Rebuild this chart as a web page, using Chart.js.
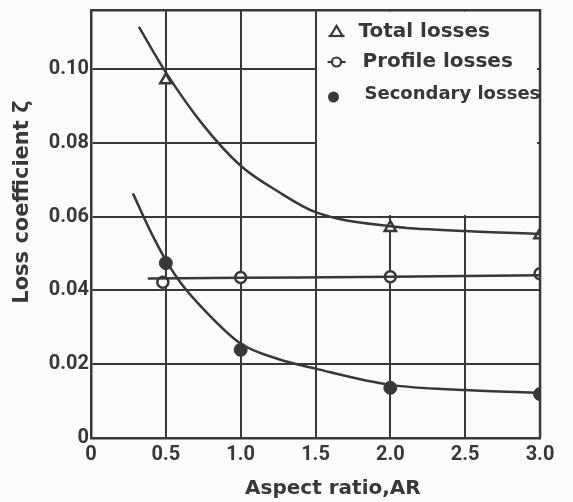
<!DOCTYPE html>
<html>
<head>
<meta charset="utf-8">
<script src="https://cdn.jsdelivr.net/npm/chart.js@4.4.1/dist/chart.umd.min.js"></script>
<style>
  html, body { margin: 0; padding: 0; background: #fbfbf9; }
  #wrap { width: 573px; height: 502px; }
</style>
</head>
<body>
<div id="wrap"><canvas id="chart"></canvas></div>
<script>
// measured points (aspect ratio AR, loss coefficient)
const totalX = [0.5, 2.0, 3.0];
const totalY = [0.097, 0.057, 0.055];
const profileX = [0.48, 1.0, 2.0, 3.0];
const profileY = [0.0422, 0.0435, 0.0437, 0.0445];
const secondaryX = [0.5, 1.0, 2.0, 3.0];
const secondaryY = [0.0474, 0.0239, 0.0136, 0.0119];

// faired curves
const totalCurveX = [0.32, 0.5, 0.75, 1.0, 1.25, 1.5, 2.0, 2.5, 3.0];
const totalCurveY = [0.1114, 0.0991, 0.0848, 0.0738, 0.0668, 0.0612, 0.0574, 0.0561, 0.0553];
const profileCurveX = [0.38, 1.0, 2.0, 3.0];
const profileCurveY = [0.0432, 0.0434, 0.0437, 0.0441];
const secondaryCurveX = [0.28, 0.4, 0.5, 0.6, 0.75, 1.0, 1.25, 1.5, 2.0, 2.5, 3.0];
const secondaryCurveY = [0.0663, 0.0558, 0.0482, 0.0420, 0.0350, 0.0256, 0.0214, 0.0188, 0.0144, 0.0130, 0.0122];

// axis ticks and labels
const xTickLabels = ['0', '0.5', '1.0', '1.5', '2.0', '2.5', '3.0'];
const yTickLabels = ['0', '0.02', '0.04', '0.06', '0.08', '0.10'];
const legendLabels = ['Total losses', 'Profile losses', 'Secondary losses'];

const ink = '#383838';
const paper = '#fbfbf9';

const pts = (xs, ys) => xs.map((x, i) => ({ x: x, y: ys[i] }));

const curve = (xs, ys) => ({
  data: pts(xs, ys),
  showLine: true,
  pointRadius: 0,
  borderColor: ink,
  borderWidth: 2.5,
  cubicInterpolationMode: 'monotone',
});

// blank legend panel, frame and the legend itself
const paperPlugin = {
  id: 'paper',
  beforeDatasetsDraw(chart) {
    const { ctx, chartArea: a, scales: { x, y } } = chart;
    const left = x.getPixelForValue(1.5);
    const bottom = y.getPixelForValue(0.06);
    ctx.save();
    ctx.fillStyle = paper;
    // stop short of the 3.0 grid line so the panel keeps its right edge
    ctx.fillRect(left + 1.5, a.top + 1.5, a.right - left - 4.5, bottom - a.top - 3);
    ctx.restore();
  },
  afterDraw(chart) {
    const { ctx, chartArea: a, scales: { x, y } } = chart;
    const left = x.getPixelForValue(1.5);
    ctx.save();
    ctx.strokeStyle = ink;
    ctx.fillStyle = ink;
    ctx.lineWidth = 2.2;
    ctx.textBaseline = 'middle';
    const mx = left + 21;
    const rows = [a.top + 22, a.top + 52, a.top + 84];
    // triangle
    let ry = rows[0];
    ctx.beginPath();
    ctx.moveTo(mx, ry - 6);
    ctx.lineTo(mx - 6, ry + 4);
    ctx.lineTo(mx + 6, ry + 4);
    ctx.closePath();
    ctx.stroke();
    ctx.beginPath();
    ctx.moveTo(mx - 8, ry + 4);
    ctx.lineTo(mx + 8, ry + 4);
    ctx.stroke();
    // open circle
    ry = rows[1];
    ctx.beginPath();
    ctx.moveTo(mx - 9, ry);
    ctx.lineTo(mx + 9, ry);
    ctx.stroke();
    ctx.beginPath();
    ctx.arc(mx, ry, 4.5, 0, Math.PI * 2);
    ctx.fillStyle = paper;
    ctx.fill();
    ctx.stroke();
    // filled circle
    ry = rows[2];
    ctx.fillStyle = ink;
    ctx.beginPath();
    ctx.arc(mx - 3, ry + 3, 5.5, 0, Math.PI * 2);
    ctx.fill();
    ctx.font = 'bold 20px "DejaVu Sans"';
    ctx.fillText(legendLabels[0], left + 43, rows[0]);
    ctx.fillText(legendLabels[1], left + 47, rows[1]);
    ctx.font = 'bold 18px "DejaVu Sans"';
    ctx.fillText(legendLabels[2], left + 49, rows[2]);

    // top and right edges of the frame
    const xr = x.getPixelForValue(3);
    ctx.fillRect(a.left - 1, a.top - 1, xr - a.left + 2, 2.5);
    ctx.fillRect(xr - 1.2, a.top - 1, 2.5, y.getPixelForValue(0) - a.top + 1);
    ctx.restore();
  },
};

new Chart(document.getElementById('chart'), {
  type: 'scatter',
  data: {
    datasets: [
      curve(totalCurveX, totalCurveY),
      curve(profileCurveX, profileCurveY),
      curve(secondaryCurveX, secondaryCurveY),
      {
        data: pts(totalX, totalY),
        pointStyle: 'triangle',
        pointRadius: 6.5,
        pointBackgroundColor: paper,
        pointBorderColor: ink,
        pointBorderWidth: 2.5,
      },
      {
        data: pts(profileX, profileY),
        pointStyle: 'circle',
        pointRadius: 5.5,
        pointBackgroundColor: paper,
        pointBorderColor: ink,
        pointBorderWidth: 2.5,
      },
      {
        data: pts(secondaryX, secondaryY),
        pointStyle: 'circle',
        pointRadius: 6.5,
        pointBackgroundColor: ink,
        pointBorderColor: ink,
        pointBorderWidth: 1,
      },
    ],
  },
  options: {
    responsive: true,
    maintainAspectRatio: false,
    animation: false,
    layout: { padding: { top: 0, right: 33, left: 0, bottom: 0 } },
    plugins: {
      legend: { display: false },
      tooltip: { enabled: false },
    },
    scales: {
      x: {
        type: 'linear',
        min: 0,
        max: 3,
        afterFit: (s) => { s.height = 64; },
        ticks: {
          stepSize: 0.5,
          padding: 5,
          color: ink,
          font: { family: 'Roboto', weight: 'bold', size: 20 },
          callback: (v, i) => xTickLabels[i],
        },
        grid: { color: ink, lineWidth: 2, drawTicks: false },
        border: { color: ink, width: 2.5 },
        title: {
          display: true,
          text: '     Aspect ratio,AR',
          color: ink,
          font: { family: 'DejaVu Sans', weight: 'bold', size: 20 },
          padding: { top: 1, bottom: 1 },
        },
      },
      y: {
        type: 'linear',
        min: 0,
        max: 0.116,
        afterFit: (s) => { s.width = 91; },
        ticks: {
          stepSize: 0.02,
          includeBounds: false,
          padding: 2,
          color: ink,
          font: { family: 'Roboto', weight: 'bold', size: 20, lineHeight: 0.8 },
          callback: (v, i) => yTickLabels[i],
        },
        grid: { color: ink, lineWidth: 2, drawTicks: false },
        border: { color: ink, width: 2.5 },
        title: {
          display: true,
          text: '      Loss coefficient ζ',
          color: ink,
          font: { family: 'DejaVu Sans', weight: 'bold', size: 21 },
          padding: { top: 10, bottom: 10 },
        },
      },
    },
  },
  plugins: [paperPlugin],
});
</script>
</body>
</html>
